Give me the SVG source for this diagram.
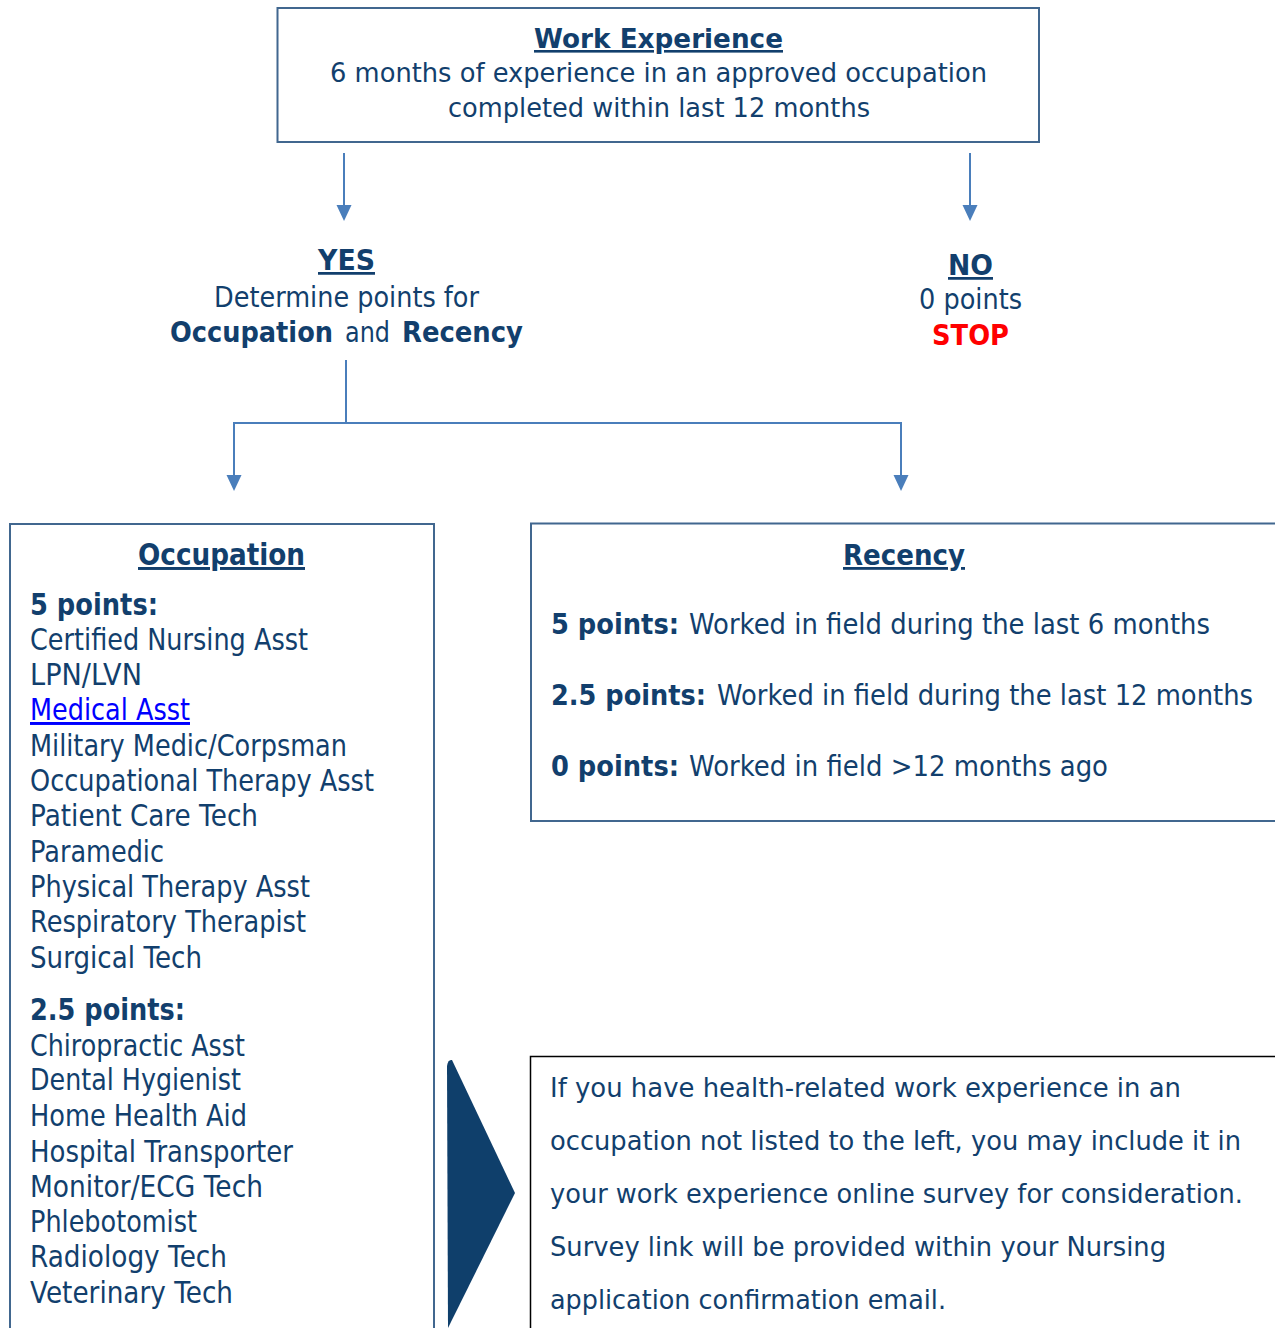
<svg xmlns="http://www.w3.org/2000/svg" width="1275" height="1328" viewBox="0 0 1275 1328">
<style>
text{font-family:"DejaVu Sans","Verdana",sans-serif;fill:#123f6d}
.b{font-weight:bold}
.u{text-decoration:underline}
.box{fill:#fff;stroke:#41678f;stroke-width:2}
.conn{fill:none;stroke:#4a7ebb;stroke-width:2}
.t26{font-size:26px}
.t27{font-size:27.5px}
.t28{font-size:28px}
.t29{font-size:29.5px}
</style>
<rect width="1275" height="1328" fill="#fff"/>

<g id="connectors">
<line class="conn" x1="344" y1="153" x2="344" y2="205"/>
<path d="M336.5,205 L351.5,205 L344,221 Z" fill="#4a7ebb"/>
<line class="conn" x1="970" y1="153" x2="970" y2="205"/>
<path d="M962.5,205 L977.5,205 L970,221 Z" fill="#4a7ebb"/>
<polyline class="conn" points="346,360 346,423"/>
<polyline class="conn" points="234,476 234,423 901,423 901,476"/>
<path d="M226.5,475 L241.5,475 L234,491 Z" fill="#4a7ebb"/>
<path d="M893.5,475 L908.5,475 L901,491 Z" fill="#4a7ebb"/>
</g>

<g id="work-experience">
<rect class="box" x="277.5" y="8" width="761.5" height="134"/>
<text class="t26 b u" x="534" y="48" textLength="249" lengthAdjust="spacingAndGlyphs">Work Experience</text>
<text class="t26" x="330" y="82" textLength="657" lengthAdjust="spacingAndGlyphs">6 months of experience in an approved occupation</text>
<text class="t26" x="448" y="117" textLength="422" lengthAdjust="spacingAndGlyphs">completed within last 12 months</text>
</g>

<g id="yes">
<text class="t27 b u" x="318" y="270" textLength="57" lengthAdjust="spacingAndGlyphs">YES</text>
<text class="t27" x="214" y="307" textLength="265" lengthAdjust="spacingAndGlyphs">Determine points for</text>
<text class="t27 b" x="170" y="342" textLength="163" lengthAdjust="spacingAndGlyphs">Occupation</text>
<text class="t27" x="345" y="342" textLength="45" lengthAdjust="spacingAndGlyphs">and</text>
<text class="t27 b" x="402" y="342" textLength="121" lengthAdjust="spacingAndGlyphs">Recency</text>
</g>

<g id="no">
<text class="t27 b u" x="948" y="275" textLength="45" lengthAdjust="spacingAndGlyphs">NO</text>
<text class="t27" x="919" y="309" textLength="103" lengthAdjust="spacingAndGlyphs">0 points</text>
<text class="t27 b" x="932" y="345" textLength="77" lengthAdjust="spacingAndGlyphs" style="fill:#ff0000">STOP</text>
</g>

<g id="occupation">
<rect class="box" x="10" y="524" width="424" height="820"/>
<text class="t29 b u" x="138" y="565" textLength="167" lengthAdjust="spacingAndGlyphs">Occupation</text>
<text class="t29 b" x="30" y="615" textLength="128" lengthAdjust="spacingAndGlyphs">5 points:</text>
<text class="t29" x="30" y="650" textLength="278" lengthAdjust="spacingAndGlyphs">Certified Nursing Asst</text>
<text class="t29" x="30" y="685" textLength="112" lengthAdjust="spacingAndGlyphs">LPN/LVN</text>
<text class="t29 u" x="30" y="720" textLength="160" lengthAdjust="spacingAndGlyphs" style="fill:#0000ff">Medical Asst</text>
<text class="t29" x="30" y="756" textLength="317" lengthAdjust="spacingAndGlyphs">Military Medic/Corpsman</text>
<text class="t29" x="30" y="791" textLength="344" lengthAdjust="spacingAndGlyphs">Occupational Therapy Asst</text>
<text class="t29" x="30" y="826" textLength="228" lengthAdjust="spacingAndGlyphs">Patient Care Tech</text>
<text class="t29" x="30" y="862" textLength="134" lengthAdjust="spacingAndGlyphs">Paramedic</text>
<text class="t29" x="30" y="897" textLength="280" lengthAdjust="spacingAndGlyphs">Physical Therapy Asst</text>
<text class="t29" x="30" y="932" textLength="276" lengthAdjust="spacingAndGlyphs">Respiratory Therapist</text>
<text class="t29" x="30" y="968" textLength="172" lengthAdjust="spacingAndGlyphs">Surgical Tech</text>
<text class="t29 b" x="30" y="1020" textLength="155" lengthAdjust="spacingAndGlyphs">2.5 points:</text>
<text class="t29" x="30" y="1056" textLength="215" lengthAdjust="spacingAndGlyphs">Chiropractic Asst</text>
<text class="t29" x="30" y="1090" textLength="211" lengthAdjust="spacingAndGlyphs">Dental Hygienist</text>
<text class="t29" x="30" y="1126" textLength="217" lengthAdjust="spacingAndGlyphs">Home Health Aid</text>
<text class="t29" x="30" y="1162" textLength="263" lengthAdjust="spacingAndGlyphs">Hospital Transporter</text>
<text class="t29" x="30" y="1197" textLength="233" lengthAdjust="spacingAndGlyphs">Monitor/ECG Tech</text>
<text class="t29" x="30" y="1232" textLength="167" lengthAdjust="spacingAndGlyphs">Phlebotomist</text>
<text class="t29" x="30" y="1267" textLength="197" lengthAdjust="spacingAndGlyphs">Radiology Tech</text>
<text class="t29" x="30" y="1303" textLength="203" lengthAdjust="spacingAndGlyphs">Veterinary Tech</text>
</g>

<g id="recency">
<rect class="box" x="531" y="523.5" width="746" height="297.5"/>
<text class="t28 b u" x="843" y="565" textLength="122" lengthAdjust="spacingAndGlyphs">Recency</text>
<text class="t28 b" x="551" y="634" textLength="128" lengthAdjust="spacingAndGlyphs">5 points:</text>
<text class="t28" x="689" y="634" textLength="521" lengthAdjust="spacingAndGlyphs">Worked in field during the last 6 months</text>
<text class="t28 b" x="551" y="705" textLength="155" lengthAdjust="spacingAndGlyphs">2.5 points:</text>
<text class="t28" x="717" y="705" textLength="536" lengthAdjust="spacingAndGlyphs">Worked in field during the last 12 months</text>
<text class="t28 b" x="551" y="776" textLength="128" lengthAdjust="spacingAndGlyphs">0 points:</text>
<text class="t28" x="689" y="776" textLength="419" lengthAdjust="spacingAndGlyphs">Worked in field &gt;12 months ago</text>
</g>

<g id="chevron">
<path d="M447,1066 Q448,1059 452,1060 L515,1193 L448,1328 Z" fill="#0f3f6b"/>
</g>

<g id="note">
<rect x="530.5" y="1056.5" width="746" height="290" fill="#fff" stroke="#000" stroke-width="1.5"/>
<text class="t26" x="550" y="1097" textLength="631" lengthAdjust="spacingAndGlyphs">If you have health-related work experience in an</text>
<text class="t26" x="550" y="1150" textLength="691" lengthAdjust="spacingAndGlyphs">occupation not listed to the left, you may include it in</text>
<text class="t26" x="550" y="1203" textLength="693" lengthAdjust="spacingAndGlyphs">your work experience online survey for consideration.</text>
<text class="t26" x="550" y="1256" textLength="616" lengthAdjust="spacingAndGlyphs">Survey link will be provided within your Nursing</text>
<text class="t26" x="550" y="1309" textLength="396" lengthAdjust="spacingAndGlyphs">application confirmation email.</text>
</g>
</svg>
